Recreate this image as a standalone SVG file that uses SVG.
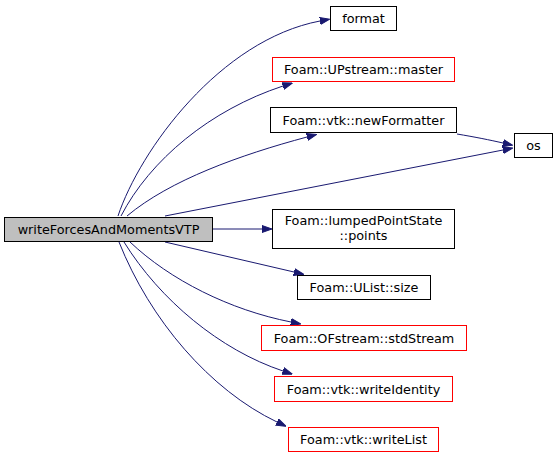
<svg xmlns="http://www.w3.org/2000/svg" width="559" height="459" viewBox="0 0 559 459">
<defs>
<marker id="arr" markerWidth="10" markerHeight="8" refX="0" refY="3.5" orient="auto" markerUnits="userSpaceOnUse" viewBox="0 0 10 7">
<polygon points="0,0 10,3.5 0,7" fill="#191970" stroke="#191970"/>
</marker>
</defs>
<style>
.n rect{fill:#fff;stroke:#000;stroke-width:1}
.n.r rect{stroke:#ff0000}
.n.m rect{fill:#bfbfbf}
text{font-family:"DejaVu Sans",sans-serif;font-size:12.8px;text-anchor:middle;fill:#000}
.e path{fill:none;stroke:#191970;stroke-width:1;marker-end:url(#arr)}
</style>
<rect width="559" height="459" fill="#fff"/>
<g class="e" id="edges">
<path d="M118,216 C140,150 220,40 320,21"/>
<path d="M121,216 C150,160 210,110 283,86"/>
<path d="M127,216 C170,180 240,155 307,137"/>
<path d="M457,134 C475,137 490,140 503,143"/>
<path d="M165,216 L503,150"/>
<path d="M213,229 L262,229"/>
<path d="M165,242 L294,272"/>
<path d="M130,242 C170,280 230,310 291,322"/>
<path d="M124,242 C160,300 220,350 283,371"/>
<path d="M119,242 C150,320 210,390 277,422"/>
</g>
<g class="n m" id="writeForcesAndMomentsVTP"><rect x="4.5" y="217.5" width="208" height="24"/><text x="108.5" y="234">writeForcesAndMomentsVTP</text></g>
<g class="n" id="format"><rect x="330.5" y="6.5" width="66" height="24"/><text x="363.5" y="23">format</text></g>
<g class="n r" id="master"><rect x="272.5" y="57.5" width="182" height="24"/><text x="363.5" y="74">Foam::UPstream::master</text></g>
<g class="n" id="newFormatter"><rect x="270.5" y="107.5" width="186" height="25"/><text x="363.5" y="124.5">Foam::vtk::newFormatter</text></g>
<g class="n" id="os"><rect x="514.5" y="133.5" width="38" height="24"/><text x="533.5" y="150">os</text></g>
<g class="n" id="points"><rect x="272.5" y="209.5" width="182" height="39"/><text x="363.5" y="224.5">Foam::lumpedPointState</text><text x="363.5" y="239.5">::points</text></g>
<g class="n" id="size"><rect x="297.5" y="275.5" width="133" height="24"/><text x="364" y="292">Foam::UList::size</text></g>
<g class="n r" id="stdStream"><rect x="261.5" y="325.5" width="205" height="25"/><text x="364" y="342.5">Foam::OFstream::stdStream</text></g>
<g class="n r" id="writeIdentity"><rect x="274.5" y="376.5" width="178" height="25"/><text x="363.5" y="393.5">Foam::vtk::writeIdentity</text></g>
<g class="n r" id="writeList"><rect x="288.5" y="427.5" width="150" height="24"/><text x="363.5" y="444">Foam::vtk::writeList</text></g>
</svg>
